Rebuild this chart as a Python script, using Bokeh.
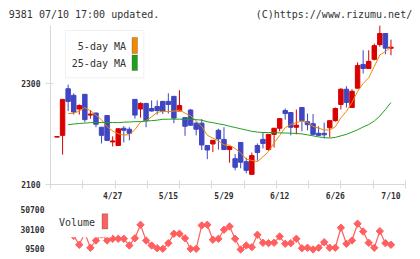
import math
from bokeh.plotting import figure
from bokeh.layouts import column
from bokeh.models import (ColumnDataSource, Range1d, FixedTicker, Label,
                          BoxAnnotation, LinearAxis, Title)
from bokeh.embed import file_html
from bokeh.resources import INLINE

NaN = float("nan")

# Daily prices, 2020-04-13 .. 2020-07-10 (61 sessions)
opens = [2193.5, 2197, 2289, 2276, 2249, 2278, 2237, 2241, 2213, 2236,
         2184, 2177, 2211, 2209, 2268, 2249, 2260, 2250, 2254, 2264,
         2264, 2274, 2245, 2232, 2247, 2221, 2221, 2177, 2180, 2207,
         2189, 2169, 2151, 2183, 2145, 2120, 2177, 2189, 2169, 2199,
         2211, 2246, 2242, 2213, 2252, 2224, 2220, 2201, 2201, 2212,
         2226, 2258, 2288, 2252, 2290, 2337, 2329, 2347, 2376, 2398,
         2369]
highs = [2194.5, 2268, 2297, 2280, 2258, 2278, 2247, 2242, 2213, 2237,
         2195, 2211, 2215, 2213, 2268, 2262, 2261, 2266, 2266, 2265,
         2280, 2274, 2286, 2232, 2249, 2224, 2229, 2177, 2187, 2210,
         2213, 2175, 2160, 2183, 2153, 2163, 2181, 2203, 2199, 2211,
         2230, 2250, 2242, 2248, 2252, 2240, 2239, 2215, 2222, 2227,
         2252, 2290, 2294, 2288, 2341, 2365, 2365, 2378, 2414, 2398,
         2386]
lows = [2193.5, 2159, 2245, 2238, 2238, 2223, 2230, 2213, 2181, 2186,
        2175, 2177, 2183, 2187, 2230, 2232, 2213, 2244, 2238, 2239,
        2240, 2221, 2245, 2196, 2216, 2197, 2168, 2150, 2164, 2169,
        2169, 2143, 2128, 2132, 2122, 2120, 2147, 2171, 2167, 2173,
        2205, 2228, 2197, 2199, 2205, 2207, 2197, 2197, 2191, 2193,
        2224, 2248, 2252, 2251, 2290, 2319, 2329, 2345, 2372, 2357,
        2355]
closes = [2194.5, 2268, 2264, 2243, 2256, 2228, 2239, 2219, 2197, 2187,
          2186, 2210, 2207, 2201, 2237, 2260, 2226, 2245, 2246, 2244,
          2258, 2231, 2256, 2215, 2217, 2209, 2178, 2168, 2187, 2190,
          2169, 2175, 2134, 2144, 2128, 2157, 2163, 2181, 2199, 2211,
          2230, 2240, 2213, 2217, 2226, 2218, 2199, 2197, 2198, 2226,
          2250, 2288, 2262, 2284, 2335, 2329, 2343, 2374, 2398, 2369,
          2371]

# Moving averages
ma5 = [NaN, NaN, 2240, 2240.7, 2244.9, 2251.7, 2245.7, 2236.8, 2227.7, 2214,
       2205.6, 2200.1, 2197.6, 2198.4, 2208.3, 2223.1, 2226.1, 2233.6, 2242.6, 2244.2,
       2243.8, 2244.8, 2247.1, 2240.9, 2235.3, 2225.5, 2214.8, 2197.2, 2191.5, 2186.1,
       2178.1, 2177.6, 2170.9, 2162.3, 2149.9, 2147.5, 2145.1, 2154.5, 2165.5, 2182,
       2196.7, 2212.1, 2218.5, 2222.1, 2225.2, 2222.8, 2214.5, 2211.3, 2207.5, 2207.6,
       2213.9, 2231.6, 2244.7, 2261.9, 2283.6, 2299.4, 2310.5, 2332.9, 2355.8, 2362.5,
       2370.8]
ma25 = [NaN, NaN, 2218, 2219.4, 2220.4, 2221.2, 2222, 2222.4, 2222.4, 2222.4,
        2222.4, 2222, 2223, 2223.4, 2224, 2224.3, 2225.3, 2226, 2227, 2228.7,
        2228.9, 2228.9, 2228.9, 2228.7, 2228.5, 2228, 2227, 2223.8, 2222, 2219.8,
        2217.8, 2215, 2212.5, 2210, 2207.4, 2205, 2203.4, 2202.6, 2202.6, 2202.4,
        2202, 2201.6, 2201.3, 2200.7, 2199.9, 2198, 2196, 2194, 2192.6, 2191.6,
        2193, 2196, 2199, 2203.4, 2208, 2213.5, 2218.4, 2225.3, 2235, 2248,
        2261.8]

volume = [NaN, NaN, 26000, 23000, 13700, 26000, 10600, 18200, 24500, 18200,
          20000, 20000, 20000, 13000, 20600, 34700, 18200, 13000, 10100, 9500,
          15400, 25300, 25300, 20600, 9500, 9500, 34000, 34700, 19000, 20000,
          29500, 32900, 20000, 8800, 13000, 11200, 24200, 15800, 15400, 15900,
          22400, 14800, 15400, 20000, 10100, 10600, 8800, 10600, 16400, 10600,
          10600, 31600, 14800, 18200, 35800, 27700, 15800, 10600, 28000, 15400,
          13700]

label_idx = [10, 20, 30, 40, 50, 60]
label_text = ["4/27", "5/15", "5/29", "6/12", "6/26", "7/10"]

price_ticks = [2100, 2300]
volume_ticks = [9500, 30100, 50700]

header_left = "9381 07/10 17:00 updated."
header_right = "(C)https://www.rizumu.net/"

# ---- geometry ----
W = 420
FL, FR, FT, FB = 50, 405, 25, 184          # price frame (page px)
X0, X1 = -1.17, 62.61
Y0, Y1 = 2100, 2413.8
VT, VB = 205, 255                           # volume frame (page px)
VY0, VY1 = 2480, 54900

def xd(px):
    return X0 + (px - FL) * (X1 - X0) / (FR - FL)

def yd(py):
    return Y0 + (FB - py) * (Y1 - Y0) / (FB - FT)

def vyd(py):
    return VY0 + (VB - py) * (VY1 - VY0) / (VB - VT)

RED = "#d90000"
BLUE = "#3f46c1"
ORANGE = "#f08a00"
GREEN = "#1ea01e"
VOLC = "#ff5f5f"
AXC = "#d8d8d8"
TXT = "#333333"
MONO = "DejaVu Sans Mono"

def bare(fig):
    fig.outline_line_color = None
    fig.background_fill_color = "white"
    fig.border_fill_color = "white"
    fig.grid.visible = False

n = len(closes)
idx = list(range(n))
colors = [RED if c >= o else BLUE for o, c in zip(opens, closes)]
src = ColumnDataSource(dict(
    x=idx, open=opens, high=highs, low=lows, close=closes,
    top=[max(o, c) for o, c in zip(opens, closes)],
    bottom=[min(o, c) for o, c in zip(opens, closes)],
    color=colors, ma5=ma5, ma25=ma25, vol=volume,
))

# ---- price panel ----
x_range = Range1d(X0, X1)
p = figure(width=W, height=VT, x_range=x_range, y_range=Range1d(Y0, Y1),
           output_backend="svg", toolbar_location=None,
           min_border_left=FL, min_border_right=W - FR,
           min_border_top=FT, min_border_bottom=VT - FB)
bare(p)

# header line: monospace, the two parts separated by no-break spaces
gap = "\u00a0" * 16
p.title = Title(text=header_left + gap + header_right, align="left", offset=8.3 - FL,
                vertical_align="middle",
                text_font=MONO, text_font_size="10px", text_font_style="normal",
                text_color=TXT, standoff=10)

yax = p.yaxis[0]
yax.ticker = FixedTicker(ticks=price_ticks)
yax.axis_line_color = AXC
yax.major_tick_line_color = AXC
yax.major_tick_out = 5
yax.major_tick_in = 3
yax.minor_tick_line_color = None
yax.major_label_standoff = 5
yax.major_label_text_font = MONO
yax.major_label_text_font_size = "8px"
yax.major_label_text_font_style = "bold"
yax.major_label_text_color = TXT

# time axis: plain division ticks
step = (X1 - X0) / 11
xax = p.xaxis[0]
xax.ticker = FixedTicker(ticks=[X0 + k * step + (1e-6 if k == 0 else -1e-6 if k == 11 else 0)
                                for k in range(12)])
xax.axis_line_color = AXC
xax.major_tick_line_color = AXC
xax.major_tick_out = 4
xax.major_tick_in = 4
xax.minor_tick_line_color = None
xax.major_label_text_font_size = "1px"
xax.major_label_text_alpha = 0
xax.major_label_standoff = 0

# date labels on a second, line-less axis
dax = LinearAxis(ticker=FixedTicker(ticks=label_idx),
                 major_label_overrides={i: t for i, t in zip(label_idx, label_text)})
dax.axis_line_color = None
dax.major_tick_line_color = None
dax.minor_tick_line_color = None
dax.major_tick_out = 0
dax.major_tick_in = 0
dax.major_label_standoff = 3
dax.major_label_text_font = MONO
dax.major_label_text_font_size = "8px"
dax.major_label_text_font_style = "bold"
dax.major_label_text_color = TXT
p.add_layout(dax, "below")

# candles
p.segment(x0="x", y0="low", x1="x", y1="high", color="color", line_width=1, source=src)
p.vbar(x="x", width=0.8, top="top", bottom="bottom", fill_color="color",
       line_color="color", line_width=1, source=src)

# moving averages
p.line(x="x", y="ma5", color=ORANGE, line_width=1, source=src)
p.line(x="x", y="ma25", color=GREEN, line_width=1, source=src)

# MA legend
p.add_layout(BoxAnnotation(left=xd(65), right=xd(143.3), top=yd(30), bottom=yd(77.3),
                           fill_color="white", fill_alpha=1, line_color="#cfcfcf",
                           line_width=1))
p.add_layout(BoxAnnotation(left=xd(131.5), right=xd(137), top=yd(37), bottom=yd(53),
                           fill_color=ORANGE, fill_alpha=1, line_color="#444444",
                           line_width=1))
p.add_layout(BoxAnnotation(left=xd(131.5), right=xd(137), top=yd(54.5), bottom=yd(70),
                           fill_color=GREEN, fill_alpha=1, line_color="#444444",
                           line_width=1))
p.add_layout(Label(x=xd(125.5), y=yd(46), text="5-day MA", text_font=MONO,
                   text_font_size="10px", text_color=TXT, text_align="right",
                   text_baseline="middle"))
p.add_layout(Label(x=xd(125.5), y=yd(62.5), text="25-day MA", text_font=MONO,
                   text_font_size="10px", text_color=TXT, text_align="right",
                   text_baseline="middle"))

# ---- volume panel ----
pv = figure(width=W, height=259 - VT, x_range=x_range, y_range=Range1d(VY0, VY1),
            output_backend="svg", toolbar_location=None, x_axis_location=None,
            min_border_left=FL, min_border_right=W - FR,
            min_border_top=0, min_border_bottom=259 - VB)
bare(pv)

vax = pv.yaxis[0]
vax.ticker = FixedTicker(ticks=volume_ticks)
vax.axis_line_color = None
vax.major_tick_line_color = None
vax.minor_tick_line_color = None
vax.major_tick_out = 0
vax.major_tick_in = 0
vax.major_label_standoff = 6
vax.major_label_text_font = MONO
vax.major_label_text_font_size = "8px"
vax.major_label_text_font_style = "bold"
vax.major_label_text_color = TXT

pv.line(x="x", y="vol", color=VOLC, line_width=1.2, source=src)
pv.scatter(x="x", y="vol", marker="square", angle=math.pi / 4, size=5.2,
           fill_color=VOLC, line_color=VOLC, line_width=1, source=src)

# volume legend (opaque box)
pv.add_layout(BoxAnnotation(left=xd(51), right=xd(111), top=vyd(VT), bottom=vyd(236.8),
                            fill_color="white", fill_alpha=1, line_color=None))
pv.add_layout(BoxAnnotation(left=xd(101.5), right=xd(107.3), top=vyd(213.3), bottom=vyd(228.5),
                            fill_color=VOLC, fill_alpha=1, line_color="#444444", line_width=1))
pv.add_layout(Label(x=xd(94.5), y=vyd(221.5), text="Volume", text_font=MONO,
                    text_font_size="10px", text_color=TXT, text_align="right",
                    text_baseline="middle"))

layout = column(p, pv, spacing=0)
open("out.html", "w").write(file_html(layout, INLINE))
